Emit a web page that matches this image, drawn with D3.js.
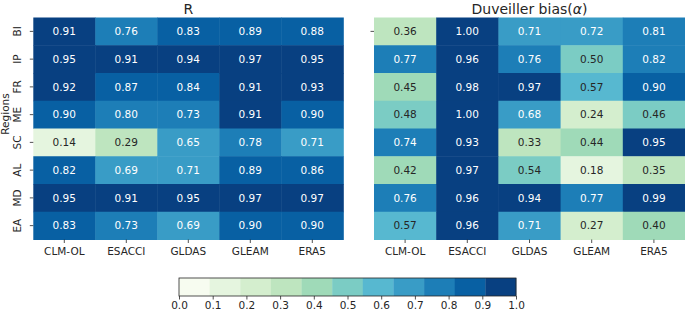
<!DOCTYPE html>
<html><head><meta charset="utf-8">
<script src="https://cdn.jsdelivr.net/npm/d3@7"></script>
<style>body{margin:0;background:#fff}svg{display:block}text{font-family:"DejaVu Sans",sans-serif}</style>
</head><body><svg id="c" width="685" height="313"></svg>
<script>
const regions = ["BI","IP","FR","ME","SC","AL","MD","EA"];
const products = ["CLM-OL","ESACCI","GLDAS","GLEAM","ERA5"];
const valuesR = [
  [0.91,0.76,0.83,0.89,0.88],
  [0.95,0.91,0.94,0.97,0.95],
  [0.92,0.87,0.84,0.91,0.93],
  [0.90,0.80,0.73,0.91,0.90],
  [0.14,0.29,0.65,0.78,0.71],
  [0.82,0.69,0.71,0.89,0.86],
  [0.95,0.91,0.95,0.97,0.97],
  [0.83,0.73,0.69,0.90,0.90]
];
const valuesAlpha = [
  [0.36,1.00,0.71,0.72,0.81],
  [0.77,0.96,0.76,0.50,0.818],
  [0.45,0.98,0.97,0.57,0.90],
  [0.48,1.00,0.68,0.24,0.46],
  [0.74,0.93,0.33,0.44,0.95],
  [0.42,0.97,0.54,0.18,0.35],
  [0.76,0.96,0.94,0.77,0.99],
  [0.57,0.96,0.71,0.27,0.40]
];
const colorbarTicks = [0,0.1,0.2,0.3,0.4,0.5,0.6,0.7,0.8,0.9,1.0];
const titles = ["R", "Duveiller bias("];

// GnBu (matplotlib, linear segments) sampled to 11 discrete colours
const gnbuStops = ["#f7fcf0","#e0f3db","#ccebc5","#a8ddb5","#7bccc4","#4eb3d3","#2b8cbe","#0868ac","#084081"];
const gnbuLinear = d3.scaleLinear().domain(d3.range(9).map(i=>i/8)).range(gnbuStops).interpolate(d3.interpolateRgb);
const palette = d3.range(11).map(i => gnbuLinear(i/10));
const color = d3.scaleQuantize().domain([0,1]).range(palette);

function lum(c){
  const r = d3.rgb(c);
  const f = v => { v/=255; return v<=0.03928? v/12.92 : Math.pow((v+0.055)/1.055,2.4); };
  return 0.2126*f(r.r)+0.7152*f(r.g)+0.0722*f(r.b);
}

const svg = d3.select("#c");
const Y0 = 17.5, Y1 = 239.5;
const y = d3.scaleBand().domain(regions).range([Y0,Y1]);

function heatmap(values, x0, x1){
  const x = d3.scaleBand().domain(products).range([x0,x1]);
  const g = svg.append("g");
  values.forEach((row,i)=>row.forEach((v,j)=>{
    const c = color(v);
    g.append("rect").attr("x",x(products[j])).attr("y",y(regions[i]))
      .attr("width",x.bandwidth()+0.5).attr("height",y.bandwidth()+0.5).attr("fill",c);
    g.append("text").attr("x",x(products[j])+x.bandwidth()/2).attr("y",y(regions[i])+y.bandwidth()/2)
      .attr("dy","0.36em").attr("text-anchor","middle").attr("font-size","10.5px")
      .attr("fill", lum(c) > 0.4 ? "#262626" : "#ffffff").text(d3.format(".2f")(v));
  }));
  const ax = d3.axisBottom(x).tickSize(3.5).tickPadding(5);
  const gx = svg.append("g").attr("transform",`translate(0,${Y1})`).call(ax);
  gx.select(".domain").remove();
  gx.selectAll("text").attr("font-size","10.5px").attr("fill","#262626").style("font-family","DejaVu Sans");
  gx.selectAll("line").attr("stroke","#262626").attr("stroke-width",0.8);
  return x;
}

heatmap(valuesR, 33.3, 343.3);
heatmap(valuesAlpha, 374, 685);

// y axis (left)
const gy = svg.append("g").attr("transform",`translate(33.3,0)`).call(d3.axisLeft(y).tickSize(3.5).tickFormat(""));
gy.select(".domain").remove();
gy.selectAll("line").attr("stroke","#262626").attr("stroke-width",0.8);
regions.forEach(r=>{
  svg.append("text").attr("transform",`translate(21,${y(r)+y.bandwidth()/2}) rotate(-90)`)
    .attr("text-anchor","middle").attr("font-size","10.5px").attr("fill","#262626").text(r);
});
svg.append("text").attr("transform",`translate(8.5,114) rotate(-90)`)
  .attr("text-anchor","middle").attr("font-size","10.5px").attr("fill","#262626").text("Regions");
// stray tick of right panel
svg.append("line").attr("x1",370.5).attr("x2",374).attr("y1",y(regions[0])+y.bandwidth()/2).attr("y2",y(regions[0])+y.bandwidth()/2)
  .attr("stroke","#262626").attr("stroke-width",0.8);

// titles
svg.append("text").attr("x",(33.3+343.3)/2).attr("y",13.5).attr("text-anchor","middle").attr("font-size","14px").attr("fill","#262626").text(titles[0]);
const t2 = svg.append("text").attr("x",(374+685)/2).attr("y",13.5).attr("text-anchor","middle").attr("font-size","14px").attr("fill","#262626");
t2.append("tspan").text(titles[1]);
t2.append("tspan").attr("font-style","italic").text("α");
t2.append("tspan").text(")");

// colorbar
const CB0 = 179, CB1 = 516, CBY = 278, CBH = 18;
const cbx = d3.scaleLinear().domain([0,1]).range([CB0,CB1]);
const cb = svg.append("g");
palette.forEach((c,i)=>{
  cb.append("rect").attr("x",cbx(i/11)).attr("y",CBY).attr("width",cbx((i+1)/11)-cbx(i/11)+0.3).attr("height",CBH).attr("fill",c);
});
cb.append("rect").attr("x",CB0).attr("y",CBY).attr("width",CB1-CB0).attr("height",CBH).attr("fill","none").attr("stroke","#262626").attr("stroke-width",0.8);
const gcb = svg.append("g").attr("transform",`translate(0,${CBY+CBH})`)
  .call(d3.axisBottom(cbx).tickValues(colorbarTicks).tickFormat(d3.format(".1f")).tickSize(3.5).tickPadding(2.5));
gcb.select(".domain").remove();
gcb.selectAll("text").attr("font-size","10.5px").attr("fill","#262626").style("font-family","DejaVu Sans");
gcb.selectAll("line").attr("stroke","#262626").attr("stroke-width",0.8);
</script></body></html>
